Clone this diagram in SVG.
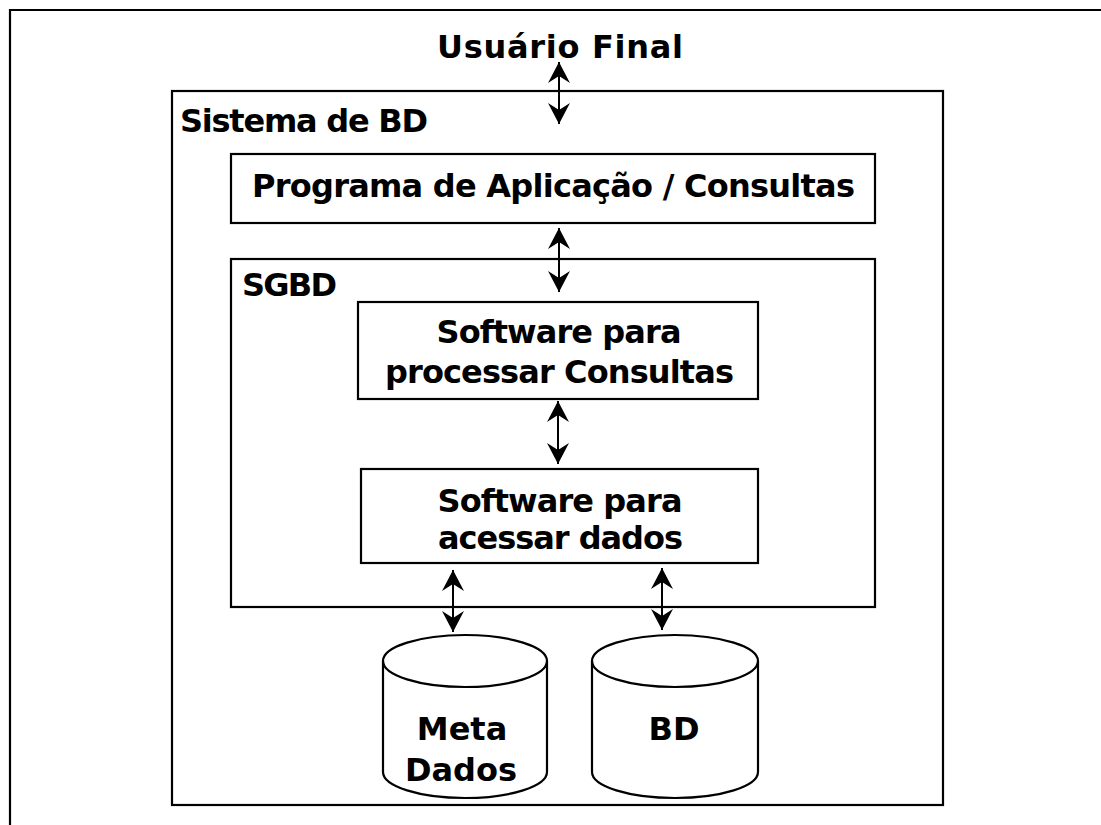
<svg xmlns="http://www.w3.org/2000/svg" width="1101" height="825" viewBox="0 0 1101 825">
<style>
.box{fill:#fff;stroke:#000;stroke-width:2.2}
.frame{fill:none;stroke:#000;stroke-width:2.2}
.t{font-family:"DejaVu Sans","Verdana",sans-serif;font-weight:bold;font-size:32px;fill:#000}
.c{text-anchor:middle}
.conn{stroke:#000;stroke-width:2;fill:none;marker-start:url(#ah);marker-end:url(#ah)}
</style>
<defs>
<marker id="ah" markerUnits="userSpaceOnUse" viewBox="-22 -12 24 24" refX="0" refY="0" markerWidth="24" markerHeight="24" orient="auto-start-reverse">
<path d="M0,0 L-21,-11 L-14,0 L-21,11 Z" fill="#000"/>
</marker>
</defs>
<rect width="1101" height="825" fill="#fff"/>
<path class="frame" d="M10,826 V10 H1102"/>
<g id="usuario">
<text class="t c" x="560" y="58" textLength="246" lengthAdjust="spacing">Usuário Final</text>
</g>
<g id="sistema">
<rect class="box" x="172" y="91" width="771" height="714"/>
<text class="t" x="180" y="132" textLength="248" lengthAdjust="spacing">Sistema de BD</text>
</g>
<g id="programa">
<rect class="box" x="231" y="154" width="644" height="69"/>
<text class="t c" x="553.5" y="197" textLength="603" lengthAdjust="spacing">Programa de Aplicação / Consultas</text>
</g>
<g id="sgbd">
<rect class="box" x="231" y="259" width="644" height="348"/>
<text class="t" x="242" y="296" textLength="95" lengthAdjust="spacing">SGBD</text>
</g>
<g id="processar">
<rect class="box" x="358" y="302" width="400" height="97"/>
<text class="t c" x="559" y="343" textLength="245" lengthAdjust="spacing">Software para</text>
<text class="t c" x="559.5" y="383" textLength="349" lengthAdjust="spacing">processar Consultas</text>
</g>
<g id="acessar">
<rect class="box" x="361" y="469" width="397" height="94"/>
<text class="t c" x="560" y="512" textLength="245" lengthAdjust="spacing">Software para</text>
<text class="t c" x="560.5" y="549" textLength="245" lengthAdjust="spacing">acessar dados</text>
</g>
<g id="metadados">
<path class="box" d="M383,661 A82,26 0 0 1 547,661 V772 A82,26 0 0 1 383,772 Z"/>
<path class="frame" d="M383,661 A82,26 0 0 0 547,661"/>
<text class="t c" x="462" y="740">Meta</text>
<text class="t c" x="461" y="781">Dados</text>
</g>
<g id="bd">
<path class="box" d="M592,661 A83,26 0 0 1 758,661 V772 A83,26 0 0 1 592,772 Z"/>
<path class="frame" d="M592,661 A83,26 0 0 0 758,661"/>
<text class="t c" x="674" y="740">BD</text>
</g>
<g id="connectors">
<line class="conn" x1="559" y1="62" x2="559" y2="124"/>
<line class="conn" x1="559" y1="228" x2="559" y2="292"/>
<line class="conn" x1="558" y1="401" x2="558" y2="464"/>
<line class="conn" x1="453" y1="570" x2="453" y2="632"/>
<line class="conn" x1="662" y1="568" x2="662" y2="630"/>
</g>
</svg>
